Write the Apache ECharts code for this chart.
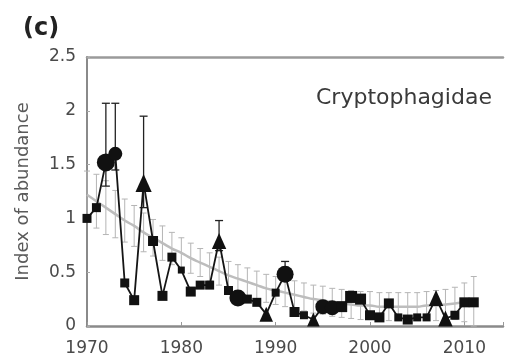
<!DOCTYPE html>
<html><head><meta charset="utf-8">
<script src="https://cdn.jsdelivr.net/npm/echarts@6/dist/echarts.min.js"></script>
<style>html,body{margin:0;padding:0;background:#fff}#c{width:506px;height:357px}</style>
</head><body><div id="c"></div>
<script>
// Observed index (black)
const years = [1970,1971,1972,1973,1974,1975,1976,1977,1978,1979,1980,1981,1982,1983,1984,1985,1986,1987,1988,1989,1990,1991,1992,1993,1994,1995,1996,1997,1998,1999,2000,2001,2002,2003,2004,2005,2006,2007,2008,2009,2010,2011];
const index = [1.00,1.10,1.52,1.60,0.40,0.24,1.33,0.79,0.28,0.64,0.52,0.32,0.38,0.38,0.79,0.33,0.26,0.25,0.22,0.11,0.31,0.48,0.13,0.10,0.06,0.18,0.17,0.18,0.27,0.25,0.10,0.08,0.21,0.08,0.06,0.08,0.08,0.26,0.07,0.10,0.22,0.22];
const markerType = ['rect','rect','circle','circle','rect','rect','triangle','rect','rect','rect','rect','rect','rect','rect','triangle','rect','circle','rect','rect','triangle','rect','circle','rect','rect','triangle','circle','circle','rect','rect','rect','rect','rect','rect','rect','rect','rect','rect','triangle','triangle','rect','rect','rect'];
const markerSize = [9,9,18,14,9,10,18,10,10,9,7,10,9,9,16,9,17,9,9,15,8,17,10,8,14,15,15,11,12,11,10,10,10,8,10,8,8,16,16,9,10,10];
// Error limits on the observed index (only where visible)
const errYears = [1972,1973,1976,1984,1991];
const errUpper = [2.07,2.07,1.95,0.98,0.60];
const errLower = [1.30,1.45,1.10,0.70,0.42];
// Fitted trend (grey) with its error bars
const trend = [1.22,1.16,1.10,1.04,0.98,0.93,0.87,0.82,0.77,0.72,0.68,0.63,0.59,0.55,0.51,0.47,0.44,0.41,0.38,0.35,0.33,0.31,0.29,0.27,0.25,0.24,0.22,0.21,0.20,0.19,0.19,0.18,0.18,0.18,0.18,0.18,0.19,0.19,0.20,0.21,0.22,0.23];
const trendErr = [0.22,0.25,0.25,0.22,0.20,0.19,0.18,0.17,0.16,0.15,0.14,0.14,0.13,0.13,0.13,0.13,0.13,0.13,0.13,0.13,0.13,0.13,0.13,0.13,0.13,0.13,0.13,0.13,0.13,0.13,0.13,0.13,0.13,0.13,0.13,0.13,0.13,0.14,0.14,0.15,0.18,0.23];
const xTicks = [1970,1980,1990,2000,2010];
const panelLabel = '(c)';
const taxon = 'Cryptophagidae';
const yName = 'Index of abundance';

const chart = echarts.init(document.getElementById('c'));
const FONT = 'DejaVu Sans';

function errBarRender(color, width, capHalf){
  return function(params, api){
    const x = api.value(0), lo = api.value(1), hi = api.value(2);
    const pHi = api.coord([x, hi]), pLo = api.coord([x, lo]);
    const st = {stroke: color, lineWidth: width};
    return {type:'group', children:[
      {type:'line', shape:{x1:pHi[0], y1:pHi[1], x2:pLo[0], y2:pLo[1]}, style:st},
      {type:'line', shape:{x1:pHi[0]-capHalf, y1:pHi[1], x2:pHi[0]+capHalf, y2:pHi[1]}, style:st},
      {type:'line', shape:{x1:pLo[0]-capHalf, y1:pLo[1], x2:pLo[0]+capHalf, y2:pLo[1]}, style:st}
    ]};
  };
}

const trendBars = years.map((y,i)=>[y, Math.max(0,trend[i]-trendErr[i]), trend[i]+trendErr[i]]);
const blackBars = errYears.map((y,i)=>[y, errLower[i], errUpper[i]]);
const mainData = years.map((y,i)=>({value:[y,index[i]], symbol:markerType[i], symbolSize: markerType[i]==='triangle'? [markerSize[i]*0.9, markerSize[i]] : markerSize[i]}));

chart.setOption({
  animation:false,
  backgroundColor:'#fff',
  title:[
    {text:panelLabel, left:18, top:12, textStyle:{fontFamily:FONT, fontSize:24, fontWeight:'bold', color:'#222'}},
    {text:taxon, left:311, top:82, textStyle:{fontFamily:FONT, fontSize:22, fontWeight:'normal', color:'#3a3a3a'}}
  ],
  grid:{left:87, right:0, top:57, bottom:31},
  xAxis:[{
    type:'value', min:1970, max:2014.1, interval:10,
    axisLine:{lineStyle:{color:'#8a8a8a', width:2.5}},
    axisTick:{inside:true, length:4, lineStyle:{color:'#999'}},
    axisLabel:{margin:14, fontFamily:FONT, fontSize:17, color:'#4a4a4a', formatter:v=> xTicks.indexOf(v)>=0 ? String(v) : ''},
    splitLine:{show:false}
  },{
    type:'value', position:'top', min:1970, max:2014.1,
    axisLine:{show:true, lineStyle:{color:'#9a9a9a', width:2.5}},
    axisTick:{show:false}, axisLabel:{show:false}, splitLine:{show:false}
  }],
  yAxis:{
    type:'value', min:0, max:2.5, interval:0.5,
    name:yName, nameLocation:'middle', nameGap:55, nameRotate:90,
    nameTextStyle:{fontFamily:FONT, fontSize:18, color:'#5a5a5a'},
    axisLine:{show:true, lineStyle:{color:'#8a8a8a', width:2}},
    axisTick:{show:true, inside:true, length:3, lineStyle:{color:'#aaa'}},
    axisLabel:{margin:11, fontFamily:FONT, fontSize:17, color:'#4a4a4a'},
    splitLine:{show:false}
  },
  series:[
    {type:'custom', renderItem:errBarRender('#b5b5b5',1,3), data:trendBars, z:1, silent:true},
    {type:'line', data:years.map((y,i)=>[y,trend[i]]), showSymbol:false, smooth:true, lineStyle:{color:'#bdbdbd', width:2.5}, z:2, silent:true},
    {type:'custom', renderItem:errBarRender('#222',1.3,4), data:blackBars, z:3, silent:true},
    {type:'line', data:mainData, lineStyle:{color:'#151515', width:1.8}, itemStyle:{color:'#111'}, z:4, silent:true}
  ]
});
</script>
</body></html>
